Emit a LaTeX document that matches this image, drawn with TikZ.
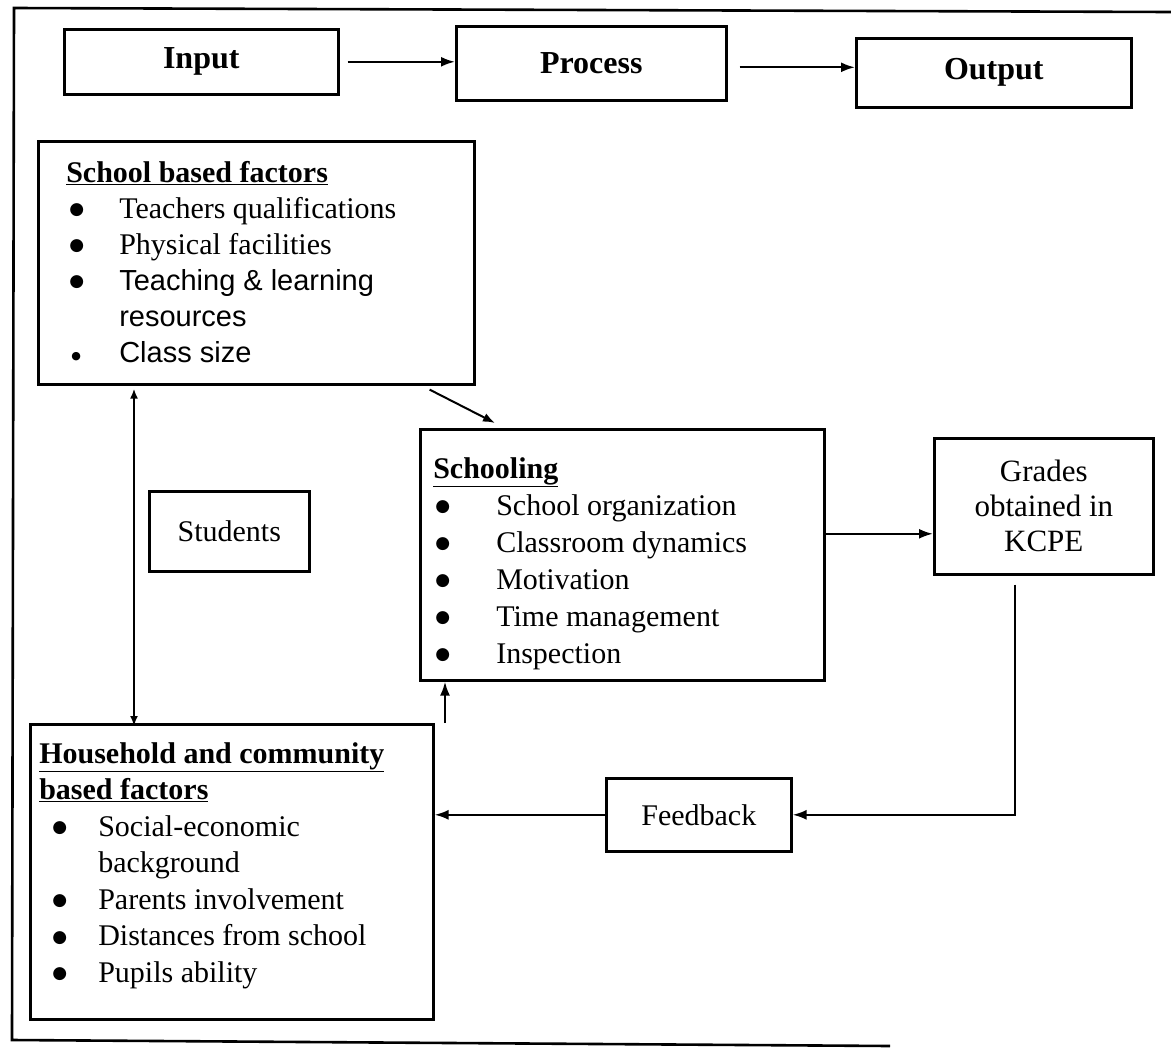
\documentclass[tikz,border=0pt]{standalone}
\usepackage{fontspec}
\setmainfont{Liberation Serif}
\newfontfamily\arialf{Liberation Sans}
\newfontfamily\dejaf{DejaVu Sans}
\usetikzlibrary{arrows.meta}
\newcommand\bigdot{\raisebox{3.5pt}{\dejaf\fontsize{17}{17}\selectfont ●}}
\newcommand\smalldot{\raisebox{3pt}{\dejaf\fontsize{11}{11}\selectfont ●}}
\newcommand\bli[3]{\hspace*{#1}\makebox[#2][l]{\bigdot}#3\par}
\begin{document}
\begin{tikzpicture}[x=1pt,y=-1pt,
  bx/.style={draw, line width=2.6pt, inner sep=0pt, anchor=north west},
  big/.style={font=\fontsize{30}{36}\selectfont},
  hd/.style={font=\bfseries\fontsize{32}{36}\selectfont},
  arr/.style={line width=2.2pt, -{Latex[length=14pt,width=10pt]}},
  darr/.style={line width=2.2pt, {Latex[length=10pt,width=8pt]}-{Latex[length=10pt,width=8pt]}}]
\useasboundingbox (0,0) rectangle (1171,1050);
\fill[white] (0,0) rectangle (1171,1050);
% outer frame
\draw[line width=2.6pt] (1171,12) -- (14,8) -- (12,1040) -- (890,1046);

% top row
\node[bx, minimum width=274pt, minimum height=65pt, hd] (input) at (63,28) {Input};
\node[bx, minimum width=270pt, minimum height=74pt, hd] (process) at (455,25) {Process};
\node[bx, minimum width=275pt, minimum height=69pt, hd] (output) at (855,37) {Output};

% school based factors
\node[bx] (school) at (37,140) {\parbox[t][243pt][t]{436pt}{\fontsize{30}{36}\selectfont
\vspace*{20pt}\hspace*{28pt}\underline{\textbf{School based factors}}\par
\bli{31pt}{50pt}{Teachers qualifications}
\bli{31pt}{50pt}{Physical facilities}
\bli{31pt}{50pt}{\arialf\fontsize{29}{36}\selectfont Teaching \& learning}
\hspace*{81pt}{\arialf\fontsize{29}{36}\selectfont resources}\par
\hspace*{33pt}\makebox[48pt][l]{\smalldot}{\arialf\fontsize{29}{36}\selectfont Class size}\par}};

% students
\node[bx, minimum width=160pt, minimum height=80pt, big] (students) at (148,490) {Students};

% schooling
\node[bx] (schooling) at (419,428) {\parbox[t][251pt][t]{404pt}{\fontsize{30}{37}\selectfont
\vspace*{28pt}\hspace*{13pt}\underline{\textbf{Schooling}}\par
\bli{15pt}{61pt}{School organization}
\bli{15pt}{61pt}{Classroom dynamics}
\bli{15pt}{61pt}{Motivation}
\bli{15pt}{61pt}{Time management}
\bli{15pt}{61pt}{Inspection}}};

% grades
\node[bx, minimum width=219pt, minimum height=136pt, align=center, font=\fontsize{31}{35}\selectfont] (grades) at (933,437) {Grades\\obtained in\\KCPE};

% household
\node[bx] (household) at (29,723) {\parbox[t][295pt][t]{403pt}{\fontsize{30}{36.5}\selectfont
\vspace*{18pt}\hspace*{9pt}\underline{\textbf{Household and community}}\par
\hspace*{9pt}\underline{\textbf{based factors}}\par
\bli{22pt}{46pt}{Social-economic}
\hspace*{68pt}background\par
\bli{22pt}{46pt}{Parents involvement}
\bli{22pt}{46pt}{Distances from school}
\bli{22pt}{46pt}{Pupils ability}}};

% feedback
\node[bx, minimum width=185pt, minimum height=73pt, big] (feedback) at (605,777) {Feedback};

% connectors
\draw[arr] ([xshift=8pt]input.east) -- (input.east -| process.west);
\draw[arr] ([xshift=12pt,yshift=-4pt]process.east) -- ([yshift=-4pt]process.east -| output.west);
\draw[darr] ([xshift=97pt,yshift=-3pt]school.south west) -- ([xshift=97pt,yshift=-3pt]school.south west |- household.north);
\draw[line width=2pt, -{Latex[length=12pt,width=9pt]}] ([xshift=-46pt,yshift=-4pt]school.south east) -- ([xshift=76pt,yshift=5pt]schooling.north west);
\draw[arr] ([xshift=416pt]household.north west) -- ([xshift=416pt]household.north west |- schooling.south);
\draw[arr] ([yshift=21pt]schooling.east) -- ([yshift=21pt]schooling.east -| grades.west);
\draw[arr] ([xshift=82pt,yshift=-9pt]grades.south west) |- (feedback.east);
\draw[arr] (feedback.west) -- (feedback.west -| household.east);
\end{tikzpicture}
\end{document}
